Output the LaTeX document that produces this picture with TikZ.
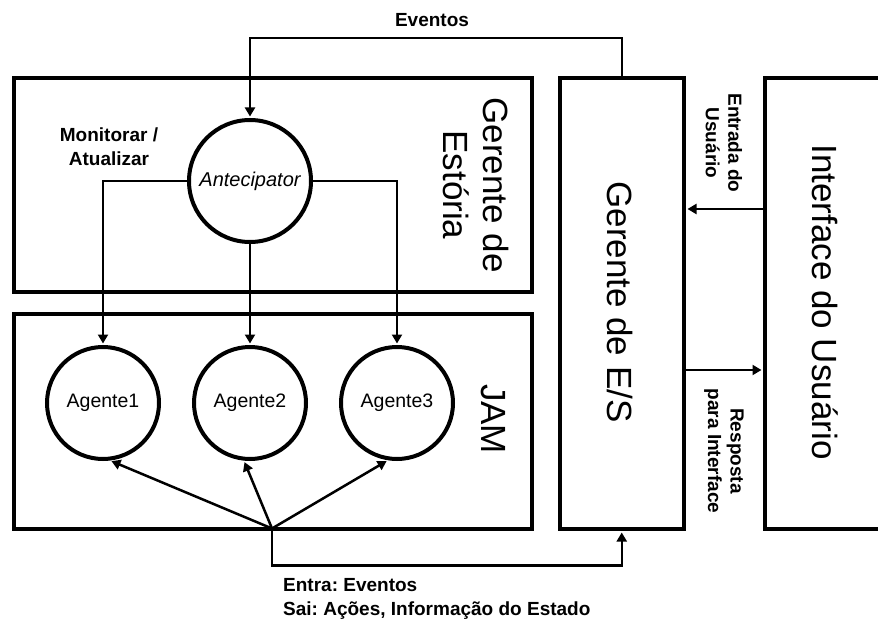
\documentclass[tikz,border=0pt]{standalone}
\usepackage{fontspec}
\setmainfont{Liberation Sans}
\usetikzlibrary{arrows.meta,calc}

\begin{document}
\frenchspacing
\begin{tikzpicture}[x=1pt,y=-1pt,
  block/.style={draw,line width=4pt,rectangle,inner sep=0pt},
  proc/.style={draw,line width=4pt,circle,inner sep=0pt},
  conn/.style={line width=2.5pt},
  tip/.style={-{Triangle[length=9pt,width=10pt]},shorten >=1.5pt},
  bigtext/.style={rotate=-90,align=center,font=\fontsize{35}{40}\selectfont},
  smalllbl/.style={font=\fontsize{19}{24}\selectfont\bfseries,align=center,inner sep=0pt},
  sidelbl/.style={rotate=-90,font=\fontsize{19}{22.5}\selectfont\bfseries,align=center,inner sep=0pt},
  proclbl/.style={font=\fontsize{19.5}{22}\selectfont}]

\clip (0,0) rectangle (878,620);

% blocks
\node[block,minimum width=518pt,minimum height=214pt] (est) at (273,185) {};
\node[block,minimum width=518pt,minimum height=215pt] (jam) at (273,421.5) {};
\node[block,minimum width=124.5pt,minimum height=451pt] (es) at (621.75,303.5) {};
\node[block,minimum width=135pt,minimum height=451pt] (ui) at (832.5,303.5) {};

% block titles
\node[bigtext] (estLbl) at (476,185) {Gerente de\\Estória};
\node[bigtext] (jamLbl) at (493,419) {JAM};
\node[bigtext] (esLbl) at (620,302) {Gerente de E/S};
\node[bigtext] (uiLbl) at (825,302) {Interface do Usuário};

% processes
\node[proc,minimum size=122pt] (ante) at (250,181) {};
\node[proclbl,font=\fontsize{20}{22}\selectfont\itshape] (anteLbl) at (ante.center) {Antecipator};
\node[proc,minimum size=112pt] (a1) at (103,403) {};
\node[proc,minimum size=112pt] (a2) at (250,403) {};
\node[proc,minimum size=112pt] (a3) at (397,403) {};
\node[proclbl] (a1Lbl) at (a1.center) {Agente1};
\node[proclbl] (a2Lbl) at (a2.center) {Agente2};
\node[proclbl] (a3Lbl) at (a3.center) {Agente3};

% labels
\node[smalllbl] (evLbl) at (432,20) {Eventos};
\node[smalllbl] (monLbl) at (109,147) {Monitorar /\\Atualizar};
\node[smalllbl,align=left,anchor=north west] (ioLbl) at (283,578)
  {Entra: Eventos\\Sai: Ações, Informação do Estado};
\node[sidelbl] (inLbl) at (724,143) {Entrada do\\Usuário};
\node[sidelbl] (outLbl) at (724,451) {Resposta\\para Interface};

% events from the I/O manager to the anticipator
\draw[conn,tip] (es.north) -- ++(0,-38) -| (ante.north);

% anticipator to agents
\draw[conn,tip] (ante.west) -| (a1.north);
\draw[conn,tip] (ante.south) -- (a2.north);
\draw[conn,tip] (ante.east) -| (a3.north);

% I/O hub below the agents
\coordinate (hub) at (272,528.5);
\draw[conn,tip] (hub) -- (a1.-83);
\draw[conn,tip] (hub) -- (a2.-96);
\draw[conn,tip] (hub) -- (a3.-99);
\draw[conn,tip] (hub) -- ++(0,37) -| (es.south);

% user interface links
\coordinate (usrIn) at ([yshift=94.5pt]ui.west);
\coordinate (usrOut) at ([yshift=-66.5pt]ui.west);
\draw[conn,tip] (usrIn) -- (es.east |- usrIn);
\draw[conn,tip] (es.east |- usrOut) -- (usrOut);

\end{tikzpicture}
\end{document}
